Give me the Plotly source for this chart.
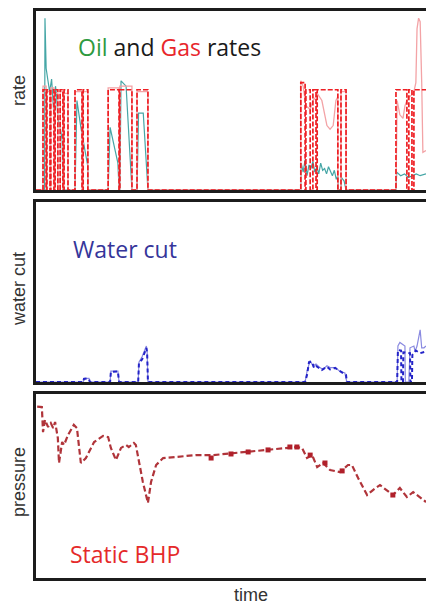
import plotly.graph_objects as go

# ---------------- data (time in arbitrary units 0..100) ----------------
# Gas rate, model (red dashed, step)
gas_model_t = [0, 1.8, 2.6, 2.8, 3.6, 3.8, 4.6, 4.9, 5.6, 6.2, 6.9, 7.2, 8.2, 10.0, 11.8, 12.1, 13.3,
               18.5, 21.3, 21.5, 24.6, 25.9, 28.7, 67.9, 69.0, 69.2, 70.3, 71.0, 71.8, 72.1, 77.4,
               78.2, 79.5, 92.3, 95.1, 95.6, 96.4, 96.9, 100]
gas_model_v = [0, 56, 0, 56, 0, 56, 0, 56, 0, 56, 0, 56, 0, 56, 0, 56, 0,
               56, 0, 56, 0, 56, 0, 60, 0, 56, 0, 56, 0, 56, 0,
               56, 0, 56, 0, 56, 0, 56, 56]

# Gas rate, observed (thin pink)
gas_obs_t = [0, 1.8, 1.8, 2.6, 2.6, 2.8, 2.8, 3.6, 3.6, 3.8, 3.8, 4.6, 4.6, 4.9, 4.9, 5.6, 5.6, 6.2, 6.2,
             6.9, 6.9, 7.2, 7.2, 8.2, 8.2, 10.0, 10.0, 11.8, 11.8, 12.1, 12.1, 13.3, 13.3, 18.5, 18.5,
             21.3, 21.3, 21.5, 21.5, 24.6, 24.6, 25.9, 25.9, 28.7, 28.7, 67.9, 67.9, 68.5, 69.0, 69.2,
             70.3, 71.0, 71.8, 72.1, 73.3, 74.6, 75.4, 76.2, 76.9, 77.4, 77.4, 78.2, 78.2, 79.5, 79.5,
             92.3, 92.6, 93.3, 94.1, 94.6, 95.1, 95.6, 96.4, 96.9, 97.4, 97.7, 98.1, 98.5, 98.9, 99.2, 100]
gas_obs_v = [0, 0, 58, 58, 0, 0, 55, 55, 0, 0, 57, 57, 0, 0, 54, 54, 0, 0, 55,
             55, 0, 0, 54, 54, 0, 0, 55, 55, 0, 0, 55, 55, 0, 0, 57,
             57, 0, 0, 58, 58, 0, 0, 55, 55, 0, 0, 61, 58, 50, 47,
             45, 50, 52, 54, 50, 36, 34, 36, 50, 52, 0, 0, 55, 55, 0,
             0, 50, 42, 40, 47, 50, 52, 53, 55, 60, 90, 96, 94, 60, 21, 22]

# Oil rate, observed (thin teal)
oil_t = [0, 2.2, 2.3, 2.6, 3.0, 3.5, 4.0, 4.5, 5.0, 5.3, 5.6, 6.2, 6.7, 6.9, 10.0, 10.5, 11.5, 12.5,
         13.3, 13.3, 18.5, 19.0, 20.0, 21.0, 21.3, 21.5, 21.8, 23.1, 24.6, 25.9, 26.3, 27.5, 28.7,
         67.9, 68.0, 68.5, 69.0, 69.5, 70.0, 70.5, 71.0, 71.5, 72.0, 72.5, 73.0, 73.5, 74.0, 74.5,
         75.0, 75.5, 76.0, 76.5, 77.0, 77.4, 77.5, 78.2, 78.3, 79.0, 79.5, 92.3, 92.5, 93.5, 94.5,
         95.5, 96.5, 97.5, 98.5, 100]
oil_v = [0, 0, 96, 68, 62, 55, 62, 45, 58, 52, 40, 35, 28, 0, 0, 50, 35, 22,
         13, 0, 0, 35, 25, 15, 0, 0, 61, 58, 0, 0, 43, 43, 0,
         0, 15, 10, 17, 8, 14, 12, 16, 10, 13, 9, 15, 11, 12, 9,
         13, 10, 8, 11, 6, 8, 0, 0, 7, 5, 0, 0, 10, 8, 9,
         7, 8, 9, 8, 9]

# Water cut, model (blue dashed) and observed (thin)
wc_model_t = [0, 12.1, 12.3, 13.0, 13.6, 13.8, 19.0, 19.2, 21.0, 21.3, 26.2, 26.4, 27.2, 28.3, 28.5, 28.7,
              69.0, 69.5, 70.0, 70.8, 71.3, 71.8, 72.8, 73.3, 74.6, 75.4, 76.7, 77.9, 79.2, 79.5, 79.7,
              92.6, 92.8, 93.6, 93.7, 94.1, 94.2, 95.9, 96.0, 96.4, 96.5, 97.4, 98.5, 100]
wc_model_v = [0, 0, 1.7, 2.0, 1.5, 0, 0, 5.6, 5.8, 0, 0, 10.6, 12.5, 18.9, 16, 0,
              0, 4, 11, 11.1, 7.8, 8.9, 7.5, 6.7, 8.5, 7.0, 7.8, 6.0, 4.0, 3.9, 0,
              0, 17.8, 17.5, 0, 0, 16.5, 16.0, 0, 0, 15, 17.5, 16, 17]
wc_obs_t = [0, 12.1, 12.3, 13.6, 13.8, 19.0, 19.2, 21.0, 21.3, 26.2, 26.4, 27.2, 28.3, 28.5, 28.7,
            69.0, 69.5, 70.3, 71.0, 71.8, 72.8, 73.6, 74.6, 75.4, 76.7, 77.9, 79.2, 79.7,
            92.6, 92.8, 93.3, 94.1, 94.6, 94.7, 95.6, 95.9, 96.9, 97.2, 97.7, 98.5, 98.9, 99.5, 100]
wc_obs_v = [0, 0, 2, 2, 0, 0, 6, 6, 0, 0, 11, 14, 20, 17, 0,
            0, 6, 12, 9, 10, 8, 7, 9, 8, 8, 6, 5, 0,
            0, 20, 22, 21, 20, 0, 0, 19, 20, 17, 20, 29, 19, 19, 20]

# Static BHP (dark red dashed) and observed points
bhp_t = [0.3, 1.5, 1.8, 2.3, 3.1, 3.8, 4.4, 4.9, 5.6, 5.9, 6.7, 7.2, 8.2, 9.7, 10.5, 11.5, 12.8, 14.9, 17.2, 18.5,
         19.2, 20.5, 21.8, 23.1, 23.8, 25.1, 25.6, 26.4, 27.4, 28.7, 29.5, 30.8, 32.6, 35.9, 41.0, 45.4, 50.5, 54.1,
         60.0, 66.9, 68.2, 69.5, 70.8, 72.1, 73.6, 75.4, 77.9, 80.0, 81.0, 82.6, 84.9, 86.4, 88.2, 90.0, 91.5, 93.3,
         95.1, 96.7, 98.5, 100]
bhp_v = [93.1, 92.9, 79.3, 85.9, 82.1, 84.2, 81.5, 84.8, 76.1, 62.5, 73.9, 72.3, 77.7, 83.2, 81.5, 62.5, 65.2, 73.9,
         77.2, 76.6, 70.7, 64.1, 70.7, 72.3, 71.2, 73.4, 72.3, 63.0, 52.2, 40.8, 52.2, 61.4, 65.2, 65.8, 66.8, 66.8,
         67.9, 68.5, 69.6, 71.2, 70.7, 65.2, 66.8, 60.3, 62.5, 58.7, 57.6, 61.4, 61.4, 54.3, 45.1, 47.8, 50.5, 47.8,
         45.1, 48.9, 44.0, 46.7, 43.5, 41.3]
bhp_pts_t = [44.9, 50.0, 54.4, 59.5, 65.1, 66.9, 70.3, 74.1, 78.5, 91.5]
bhp_pts_v = [65.2, 67.4, 68.5, 69.6, 71.2, 71.2, 66.8, 62.5, 58.2, 45.1]

# ---------------- figure ----------------
fig = go.Figure()

fig.add_trace(go.Scatter(x=oil_t, y=oil_v, mode="lines", line=dict(color="#45a6a6", width=1.2),
                         xaxis="x", yaxis="y", showlegend=False))
fig.add_trace(go.Scatter(x=gas_obs_t, y=gas_obs_v, mode="lines", line=dict(color="#f3a3a6", width=1.3),
                         xaxis="x", yaxis="y", showlegend=False))
fig.add_trace(go.Scatter(x=gas_model_t, y=gas_model_v, mode="lines", line_shape="hv",
                         line=dict(color="#ee1f24", width=1.7, dash="5px,2px"),
                         xaxis="x", yaxis="y", showlegend=False))

fig.add_trace(go.Scatter(x=wc_obs_t, y=wc_obs_v, mode="lines", line=dict(color="#8a8ae0", width=1.2),
                         xaxis="x2", yaxis="y2", showlegend=False))
fig.add_trace(go.Scatter(x=wc_model_t, y=wc_model_v, mode="lines",
                         line=dict(color="#2424c8", width=2, dash="4px,3px"),
                         xaxis="x2", yaxis="y2", showlegend=False))

fig.add_trace(go.Scatter(x=bhp_t, y=bhp_v, mode="lines",
                         line=dict(color="#b0343a", width=2.2, dash="6px,3px"),
                         xaxis="x3", yaxis="y3", showlegend=False))
fig.add_trace(go.Scatter(x=bhp_pts_t, y=bhp_pts_v, mode="markers",
                         marker=dict(color="#b0202a", size=5, symbol="square"),
                         xaxis="x3", yaxis="y3", showlegend=False))

H, W = 606, 426
top, bot, left = 11, 28, 36
ph = H - top - bot


def pd(py):
    return (H - bot - py) / ph


axis_line = dict(showline=True, linecolor="#1c1c1c", linewidth=2.5, showgrid=False,
                 zeroline=False, showticklabels=False, ticks="")

fig.update_layout(
    width=W, height=H,
    margin=dict(l=left, r=0, t=top, b=bot),
    paper_bgcolor="white", plot_bgcolor="white",
    xaxis=dict(domain=[0, 1], range=[0, 100], anchor="y", mirror=True, **axis_line),
    yaxis=dict(domain=[pd(190), pd(11)], range=[0, 100], anchor="x", **axis_line),
    xaxis2=dict(domain=[0, 1], range=[0, 100], anchor="y2", mirror=True, **axis_line),
    yaxis2=dict(domain=[pd(382), pd(202)], range=[0, 100], anchor="x2", **axis_line),
    xaxis3=dict(domain=[0, 1], range=[0, 100], anchor="y3", mirror=True, **axis_line),
    yaxis3=dict(domain=[pd(578), pd(394)], range=[0, 100], anchor="x3", **axis_line),
    font=dict(family="Liberation Sans, Arial, sans-serif", color="#333333"),
)

ann_font = dict(family="Liberation Sans, Arial, sans-serif", size=18, color="#333333")
title_font = "Open Sans, Noto Sans, sans-serif"


def px2x(px):
    return (px - left) / (W - left)


annotations = [
    dict(text="rate", x=px2x(19), y=pd(91), textangle=-90, font=ann_font),
    dict(text="water cut", x=px2x(19), y=pd(289), textangle=-90, font=ann_font),
    dict(text="pressure", x=px2x(19), y=pd(482), textangle=-90, font=ann_font),
    dict(text="time", x=px2x(251), y=pd(595), font=ann_font),
    dict(text="<span style='color:#2f9a40'>Oil</span> and <span style='color:#e8262b'>Gas</span> rates",
         x=px2x(76), y=pd(47), xanchor="left", font=dict(family=title_font, size=23, color="#1a1a1a")),
    dict(text="Water cut", x=px2x(71), y=pd(249), xanchor="left",
         font=dict(family=title_font, size=23, color="#35359a")),
    dict(text="Static BHP", x=px2x(68), y=pd(554), xanchor="left",
         font=dict(family=title_font, size=23, color="#e52a2a")),
]
for a in annotations:
    a.setdefault("xanchor", "center")
    a.update(xref="paper", yref="paper", yanchor="middle", showarrow=False)
fig.update_layout(annotations=annotations)

fig.write_html("out.html", config={"displayModeBar": False},
               post_script="document.body.style.margin='0';document.body.style.overflow='hidden';")
